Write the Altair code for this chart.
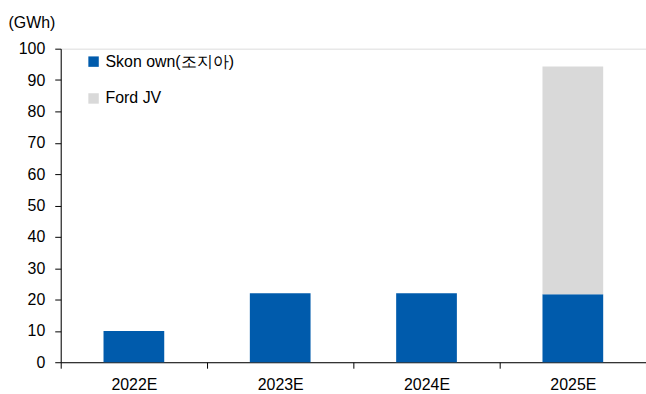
import altair as alt
import pandas as pd

years = ["2022E", "2023E", "2024E", "2025E"]
skon_own = [10.0, 22.0, 22.0, 21.7]
ford_jv = [0.0, 0.0, 0.0, 72.6]
series = ["Skon own(조지아)", "Ford JV"]
colors = ["#005BAC", "#D9D9D9"]

rows = []
for i, y in enumerate(years):
    rows.append({"year": y, "series": series[0], "value": skon_own[i], "order": 0})
    rows.append({"year": y, "series": series[1], "value": ford_jv[i], "order": 1})
df = pd.DataFrame(rows)

FONT = "Liberation Sans"

chart = (
    alt.Chart(df)
    .mark_bar(size=61)
    .encode(
        x=alt.X(
            "year:N",
            sort=years,
            scale=alt.Scale(paddingInner=0, paddingOuter=0),
            axis=alt.Axis(
                title=None,
                labelAngle=0,
                tickBand="extent",
                tickSize=6,
                labelPadding=8,
                labelFontSize=16,
                labelColor="#000000",
                domainColor="#000000",
                tickColor="#000000",
                labelFont=FONT,
            ),
        ),
        y=alt.Y(
            "value:Q",
            stack="zero",
            scale=alt.Scale(domain=[0, 100], nice=False),
            axis=alt.Axis(
                values=list(range(0, 101, 10)),
                title="(GWh)",
                titleAngle=0,
                titleX=-53,
                titleY=-26,
                titleAlign="left",
                titleBaseline="middle",
                titleFontWeight="normal",
                titleFontSize=16,
                titleFont=FONT,
                titleColor="#000000",
                grid=False,
                tickSize=6,
                labelPadding=10,
                labelFontSize=16,
                labelFont=FONT,
                labelColor="#000000",
                domainColor="#000000",
                tickColor="#000000",
            ),
        ),
        color=alt.Color(
            "series:N",
            sort=series,
            scale=alt.Scale(domain=series, range=colors),
            legend=alt.Legend(
                title=None,
                orient="none",
                legendX=25,
                legendY=5,
                symbolType="square",
                symbolSize=110,
                symbolStrokeWidth=0,
                symbolOpacity=1,
                labelFontSize=16,
                labelFont=FONT,
                labelColor="#000000",
                labelOffset=4,
                rowPadding=21,
            ),
        ),
        order=alt.Order("order:Q"),
    )
    .properties(
        width=588,
        height=315,
        autosize=alt.AutoSizeParams(type="none"),
        padding={"left": 61, "top": 48, "right": 0, "bottom": 31},
    )
    .configure_view(stroke=None)
    .configure(background="#FFFFFF")
)

chart.save("out.html", embed_options={"renderer": "svg", "actions": False})
